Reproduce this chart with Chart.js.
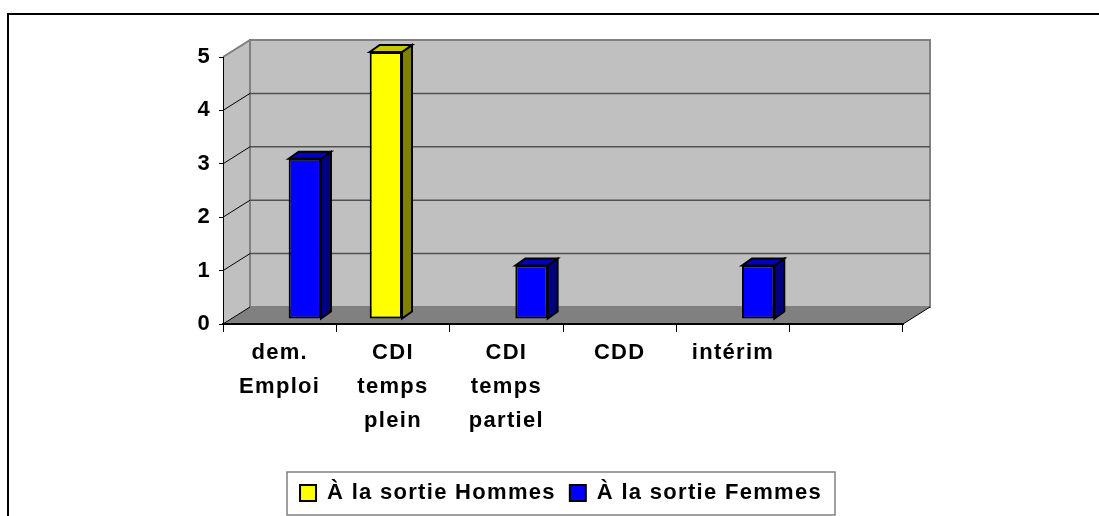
<!DOCTYPE html>
<html>
<head>
<meta charset="utf-8">
<style>
    html, body { margin: 0; padding: 0; background: #fff; overflow: hidden; }
    #wrap { position: relative; width: 1099px; height: 516px; overflow: hidden; }
    #cadre { position: absolute; left: 7px; top: 13px; width: 1100px; height: 510px; border: 2px solid #000; border-right: none; }
    canvas { position: absolute; left: 0; top: 0; }
</style>
<script src="https://cdn.jsdelivr.net/npm/chart.js@4"></script>
</head>
<body>
<div id="wrap">
    <div id="cadre"></div>
    <canvas id="graphe" width="1099" height="516"></canvas>
</div>
<script>
// --- DONNEES ---
const categories = [['dem.', 'Emploi'], ['CDI', 'temps', 'plein'], ['CDI', 'temps', 'partiel'], 'CDD', 'intérim', ''];
const hommes = [null, 5, null, null, null, null];
const femmes = [3, null, 1, null, 1, null];
const nomsSeries = ['À la sortie Hommes', 'À la sortie Femmes'];
const graduations = [0, 1, 2, 3, 4, 5];

// --- STYLE 3D ---
const MUR_DX = 27, MUR_DY = -17;     // fond du graphique par rapport au plan avant
const BARRE_DX = 9, BARRE_DY = -5;   // position des barres dans la profondeur
const PROF_DX = 10, PROF_DY = -7;    // profondeur d'une barre
const FAMILLE = '"Liberation Sans", Arial, sans-serif';
const CADRE_LEGENDE = { x: 287, y: 472, w: 548, h: 43 };

function poly(ctx, pts, fill, stroke, lw) {
    ctx.beginPath();
    pts.forEach((p, i) => i ? ctx.lineTo(p[0], p[1]) : ctx.moveTo(p[0], p[1]));
    ctx.closePath();
    if (fill) { ctx.fillStyle = fill; ctx.fill(); }
    if (stroke) { ctx.strokeStyle = stroke; ctx.lineWidth = lw; ctx.stroke(); }
}

const decor = {
    id: 'decor',
    beforeUpdate(chart) {
        // texte un peu etire comme dans l'original
        chart.ctx.letterSpacing = '1.3px';
    },
    beforeDraw(chart) {
        const ctx = chart.ctx, a = chart.chartArea, y = chart.scales.y;
        ctx.save();
        // parois
        poly(ctx, [[a.left, a.bottom], [a.left, a.top], [a.left + MUR_DX, a.top + MUR_DY], [a.left + MUR_DX, a.bottom + MUR_DY]], '#c0c0c0');
        poly(ctx, [[a.left + MUR_DX, a.top + MUR_DY], [a.right + MUR_DX, a.top + MUR_DY], [a.right + MUR_DX, a.bottom + MUR_DY], [a.left + MUR_DX, a.bottom + MUR_DY]], '#c0c0c0', '#808080', 2);
        poly(ctx, [[a.left, a.bottom], [a.left + MUR_DX, a.bottom + MUR_DY], [a.right + MUR_DX, a.bottom + MUR_DY], [a.right, a.bottom]], '#808080');
        // grille
        graduations.forEach(v => {
            const py = y.getPixelForValue(v);
            ctx.lineWidth = 1;
            ctx.strokeStyle = '#000';
            ctx.beginPath();
            ctx.moveTo(a.left, py);
            ctx.lineTo(a.left + MUR_DX, py + MUR_DY);
            ctx.stroke();
            if (v > 0 && v < 5) {
                ctx.strokeStyle = '#505050';
                ctx.lineWidth = 1.5;
                ctx.beginPath();
                ctx.moveTo(a.left + MUR_DX, py + MUR_DY);
                ctx.lineTo(a.right + MUR_DX, py + MUR_DY);
                ctx.stroke();
            }
        });
        ctx.strokeStyle = '#808080';
        ctx.lineWidth = 2;
        ctx.beginPath();
        ctx.moveTo(a.left + MUR_DX, a.top + MUR_DY);
        ctx.lineTo(a.left, a.top);
        ctx.stroke();
        ctx.restore();
        // cadre de la legende
        ctx.save();
        ctx.strokeStyle = '#808080';
        ctx.lineWidth = 1.5;
        ctx.strokeRect(CADRE_LEGENDE.x, CADRE_LEGENDE.y, CADRE_LEGENDE.w, CADRE_LEGENDE.h);
        ctx.restore();
    },
    afterLayout(chart) {
        // legende decalee comme dans l'original
        const l = chart.legend;
        l.left = 266;
        l.right = 856;
        l.width = 590;
        l.top = 468;
        l.bottom = 515;
        l.height = 47;
        l.adjustHitBoxes();
    },
    beforeDatasetsDraw(chart) {
        const ctx = chart.ctx;
        ctx.save();
        ctx.translate(BARRE_DX, BARRE_DY);
        // faces laterales et superieures
        chart.data.datasets.forEach((ds, i) => {
            chart.getDatasetMeta(i).data.forEach((bar, j) => {
                if (ds.data[j] === null) return;
                const p = bar.getProps(['x', 'y', 'base', 'width']);
                const g = p.x - p.width / 2, d = p.x + p.width / 2;
                poly(ctx, [[d, p.y], [d + PROF_DX, p.y + PROF_DY], [d + PROF_DX, p.base + PROF_DY], [d, p.base]], ds.couleurCote, '#000', 2);
                poly(ctx, [[g, p.y], [g + PROF_DX, p.y + PROF_DY], [d + PROF_DX, p.y + PROF_DY], [d, p.y]], ds.couleurDessus, '#000', 2);
            });
        });
    },
    afterDatasetsDraw(chart) {
        chart.ctx.restore();
    },
    afterDraw(chart) {
        const ctx = chart.ctx, a = chart.chartArea;
        ctx.save();
        ctx.strokeStyle = '#000';
        ctx.lineWidth = 1;
        ctx.beginPath();
        ctx.moveTo(a.right, a.bottom);
        ctx.lineTo(a.right + MUR_DX, a.bottom + MUR_DY);
        ctx.stroke();
        ctx.restore();
    }
};

new Chart(document.getElementById('graphe'), {
    type: 'bar',
    data: {
        labels: categories,
        datasets: [{
            label: nomsSeries[0],
            data: hommes,
            backgroundColor: '#ffff00',
            borderColor: '#000',
            borderWidth: 2,
            borderSkipped: false,
            couleurCote: '#808000',
            couleurDessus: '#c8c800'
        }, {
            label: nomsSeries[1],
            data: femmes,
            backgroundColor: '#0000ff',
            borderColor: '#000',
            borderWidth: 2,
            borderSkipped: false,
            couleurCote: '#000080',
            couleurDessus: '#0000c0'
        }]
    },
    options: {
        responsive: false,
        animation: false,
        categoryPercentage: 0.57,
        barPercentage: 1,
        layout: { padding: { left: 193, right: 196, top: 57, bottom: 0 } },
        plugins: {
            tooltip: { enabled: false },
            legend: {
                position: 'bottom',
                labels: {
                    color: '#000',
                    font: { family: FAMILLE, size: 22, weight: 'bold' },
                    boxWidth: 16,
                    boxHeight: 16,
                    padding: 14
                }
            }
        },
        scales: {
            x: {
                afterFit(scale) { scale.height = 146; },
                border: { color: '#000', width: 2 },
                grid: { drawOnChartArea: false, tickLength: 8, tickColor: '#000', offset: true },
                ticks: {
                    color: '#000',
                    maxRotation: 0,
                    autoSkip: false,
                    padding: 4,
                    font: { family: FAMILLE, size: 22, weight: 'bold', lineHeight: 1.55 }
                }
            },
            y: {
                min: 0,
                max: 5,
                afterFit(scale) { scale.width = 30; },
                afterBuildTicks(scale) { scale.ticks = graduations.map(v => ({ value: v })); },
                border: { color: '#000', width: 1 },
                grid: { drawOnChartArea: false, tickLength: 4, tickColor: '#000' },
                ticks: {
                    color: '#000',
                    padding: 8,
                    font: { family: FAMILLE, size: 22, weight: 'bold' }
                }
            }
        }
    },
    plugins: [decor]
});
</script>
</body>
</html>
